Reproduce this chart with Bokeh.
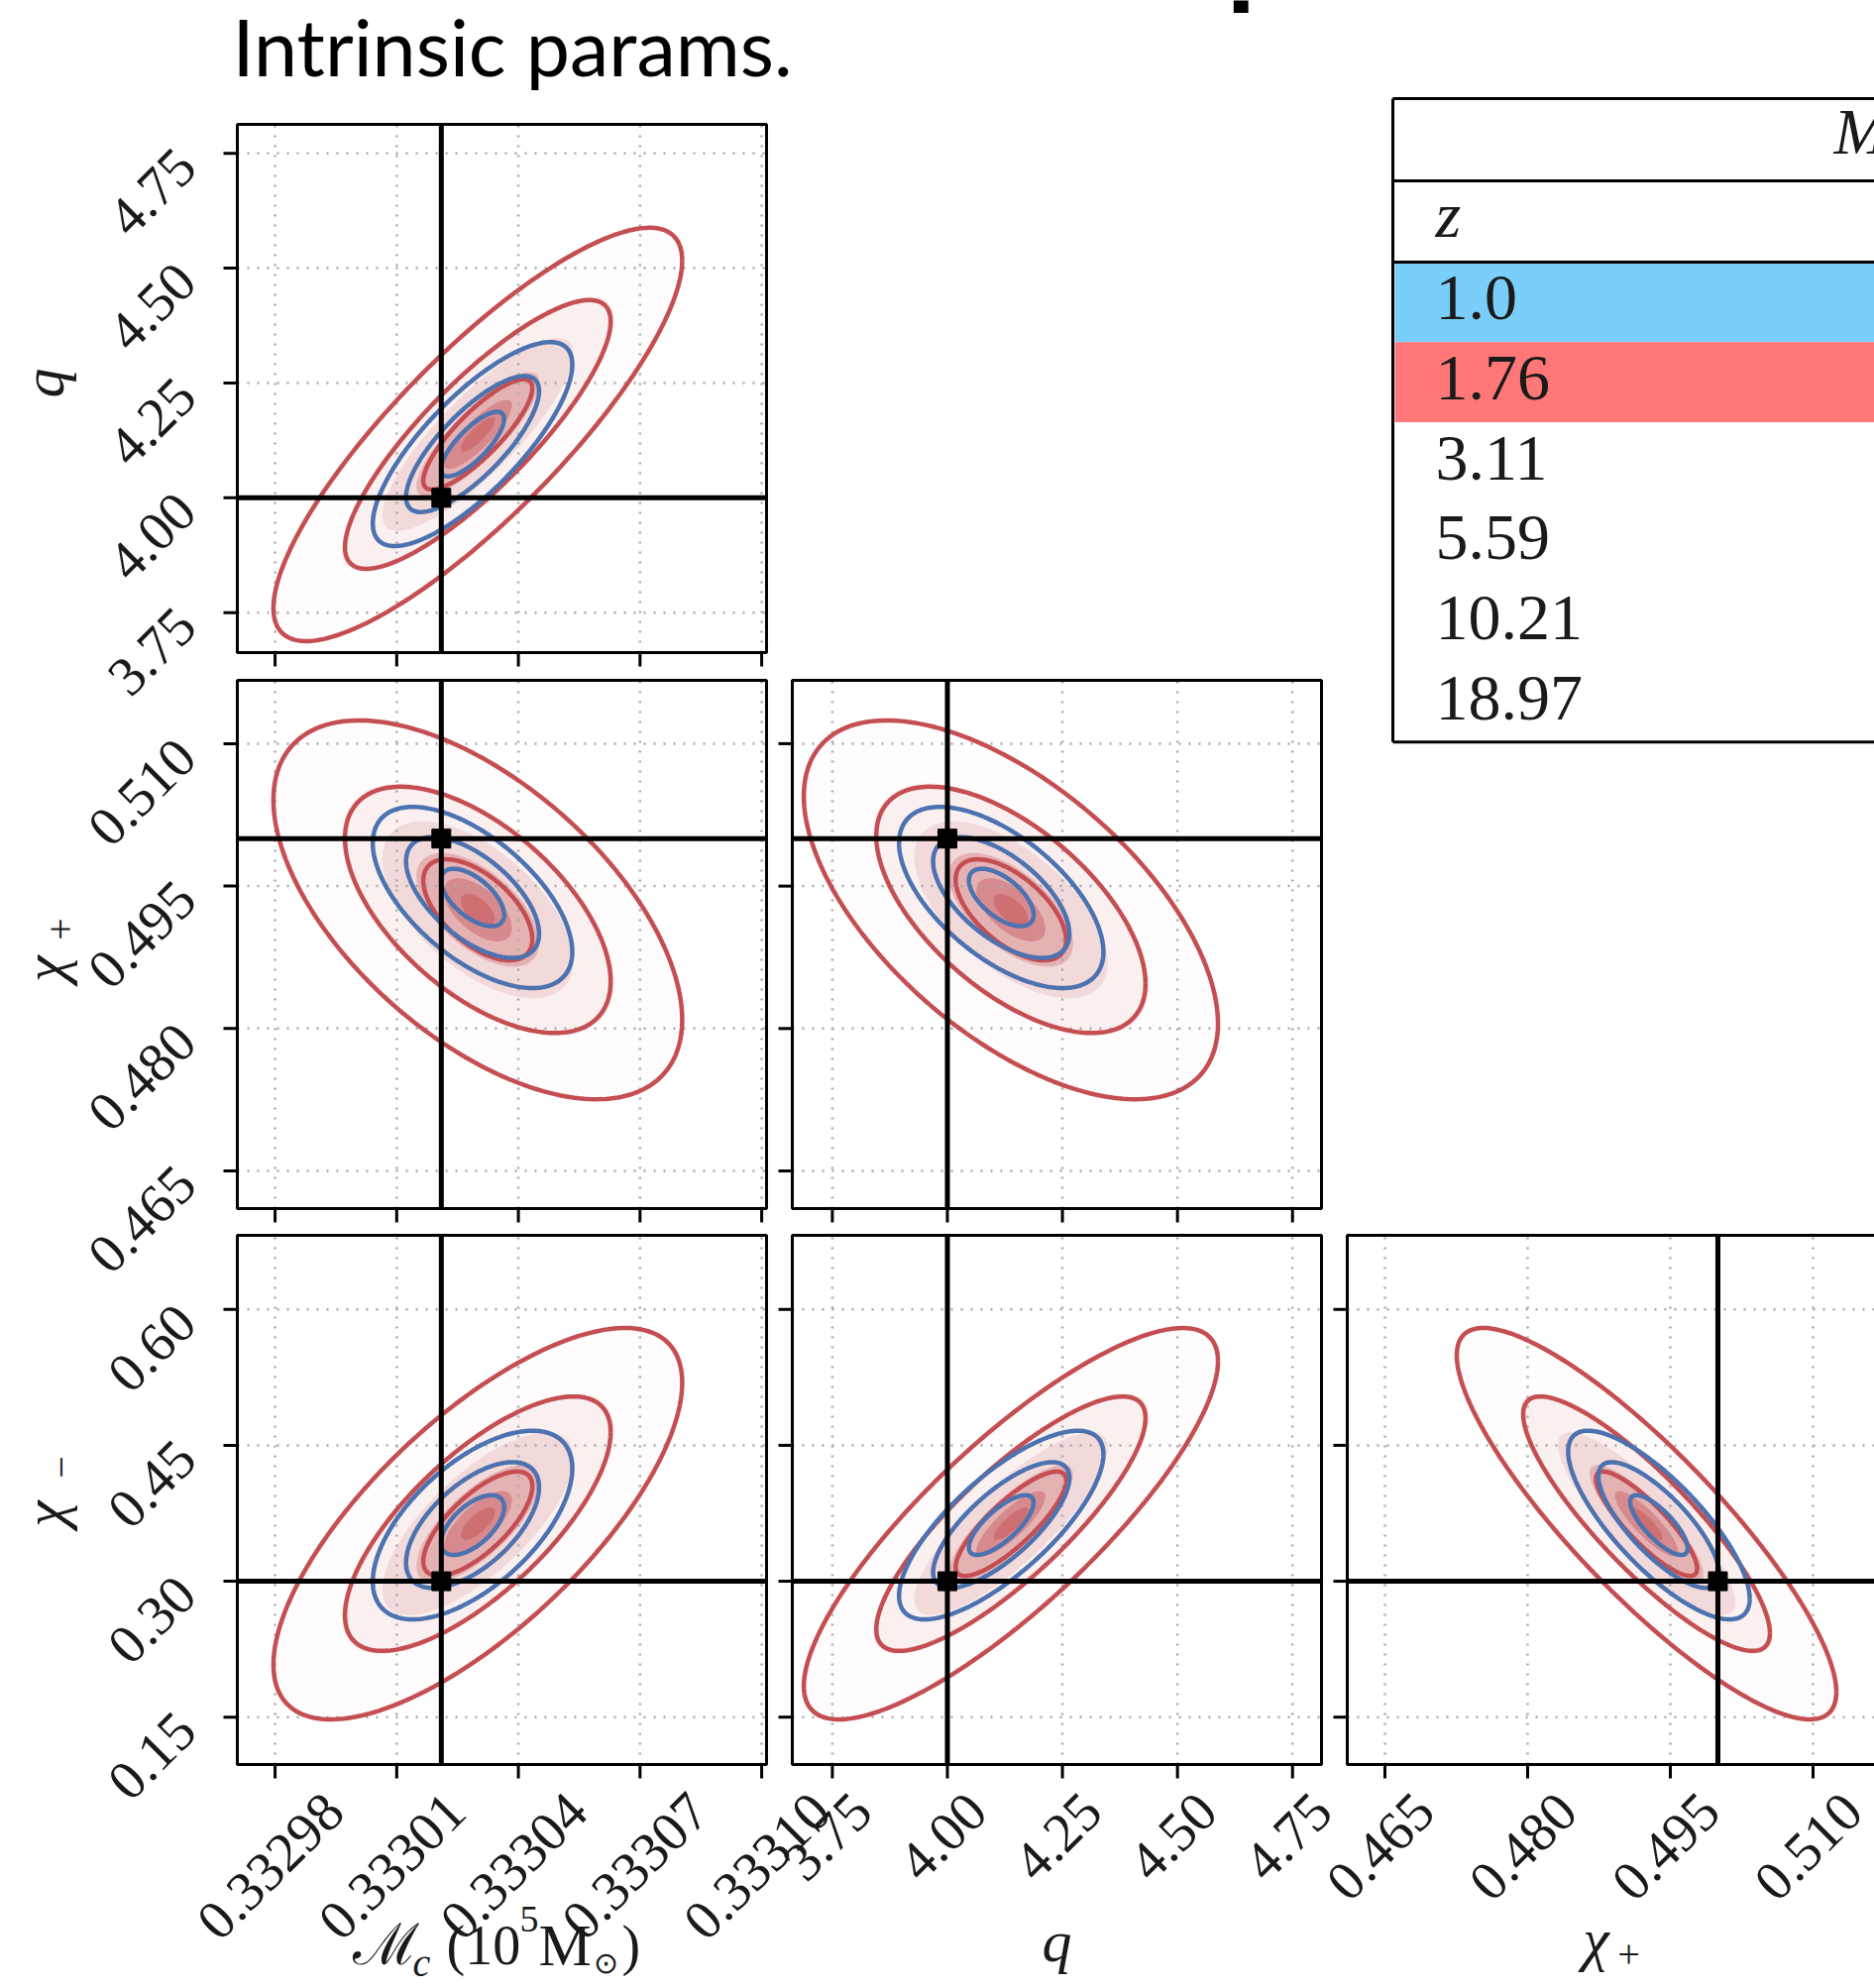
import numpy as np
from bokeh.plotting import figure
from bokeh.models import Range1d
from bokeh.core.properties import value
from bokeh.embed import file_html
from bokeh.resources import INLINE

W, H = 1891, 2006

# ---------------- posterior summaries ----------------
# parameter order: chirp mass (1e5 Msun), mass ratio q, chi_plus, chi_minus
TRUTH = [0.333021, 4.00, 0.500, 0.300]

# z = 1.76 posterior (red, with density shading)
RED_MEAN = [0.333030, 4.138, 0.4925, 0.3635]
RED_SIGMA = [1.68e-5, 0.150, 0.00665, 0.072]
# z = 1.0 posterior (blue)
BLUE_MEAN = [0.3330287, 4.117, 0.4938, 0.3620]
BLUE_SIGMA = [0.82e-5, 0.074, 0.00318, 0.0347]

# 2D panels as (x parameter, y parameter) and their correlations
PAIRS = [(0, 1), (0, 2), (1, 2), (0, 3), (1, 3), (2, 3)]
RED_CORR = [0.84, -0.58, -0.60, 0.72, 0.83, -0.86]
BLUE_CORR = [0.78, -0.60, -0.60, 0.60, 0.75, -0.78]

RED_LEVELS = [0.8, 1.95, 3.0]
BLUE_LEVELS = [0.95, 2.0, 3.0]
SHADE_LEVELS = [3.0, 2.0, 1.4, 0.9, 0.5, 0.25]
SHADE_ALPHA = [0.015, 0.07, 0.14, 0.28, 0.40, 0.45]

# axis limits and ticks
AXIS_LIMITS = [[0.3329707, 0.3331012], [3.663, 4.813], [0.46104, 0.51667], [0.0977, 0.6818]]
TICKS_MC = [0.33298, 0.33301, 0.33304, 0.33307, 0.33310]
TICKS_Q = [3.75, 4.00, 4.25, 4.50, 4.75]
TICKS_CHIP = [0.465, 0.480, 0.495, 0.510]
TICKS_CHIM = [0.15, 0.30, 0.45, 0.60]
LABELS_MC = ["0.33298", "0.33301", "0.33304", "0.33307", "0.33310"]
LABELS_Q = ["3.75", "4.00", "4.25", "4.50", "4.75"]
LABELS_CHIP = ["0.465", "0.480", "0.495", "0.510"]
LABELS_CHIM = ["0.15", "0.30", "0.45", "0.60"]
TICKS = [TICKS_MC, TICKS_Q, TICKS_CHIP, TICKS_CHIM]
LABELS = [LABELS_MC, LABELS_Q, LABELS_CHIP, LABELS_CHIM]

# redshift table
Z_VALUES = ["1.0", "1.76", "3.11", "5.59", "10.21", "18.97"]
Z_ROW_FILL = ["#79cff9", "#ff7777", None, None, None, None]

# ---------------- layout (page pixels) ----------------
COL_PX = [(239, 773), (799, 1333), (1359, 1893)]
ROW_PX = [(125, 658), (686, 1219), (1246, 1780)]
TICK_LEN = 14
TICK_FS = 56
RED = "#c44e52"
BLUE = "#4c72b0"
SERIF = value("Liberation Serif")
INK = "#1a1a1a"

p = figure(width=W, height=H, x_range=Range1d(0, W), y_range=Range1d(H, 0),
           x_axis_type=None, y_axis_type=None, toolbar_location=None,
           output_backend="svg", min_border=0, outline_line_color=None,
           background_fill_color="white", border_fill_color="white")


def col_range(c):
    lo, hi = AXIS_LIMITS[c]
    px0, px1 = COL_PX[c]
    s = (hi - lo) / (px1 - px0)
    return Range1d(lo - px0 * s, lo + (W - px0) * s)


def row_range(r):
    lo, hi = AXIS_LIMITS[r + 1]
    py0, py1 = ROW_PX[r]
    s = (hi - lo) / (py1 - py0)
    return Range1d(hi - (H - py0) * s, hi + py0 * s)


p.extra_x_ranges = {f"x{c}": col_range(c) for c in range(3)}
p.extra_y_ranges = {f"y{r + 1}": row_range(r) for r in range(3)}

theta = np.linspace(0, 2 * np.pi, 240)


def ellipse(mean, sigma, i, j, rho, k):
    x = mean[i] + k * sigma[i] * np.cos(theta)
    y = mean[j] + k * sigma[j] * (rho * np.cos(theta) + np.sqrt(1 - rho ** 2) * np.sin(theta))
    return x, y


def em(s):
    return sum(0.25 if ch == "." else 0.5 for ch in s)


for n, (i, j) in enumerate(PAIRS):
    c, r = i, j - 1
    xr, yr = f"x{c}", f"y{j}"
    xlo, xhi = AXIS_LIMITS[i]
    ylo, yhi = AXIS_LIMITS[j]
    rr = dict(x_range_name=xr, y_range_name=yr)

    # density shading of the red posterior
    for k, a in zip(SHADE_LEVELS, SHADE_ALPHA):
        ex, ey = ellipse(RED_MEAN, RED_SIGMA, i, j, RED_CORR[n], k)
        p.patch(ex, ey, fill_color=RED, fill_alpha=a, line_color=None, **rr)

    # dotted grid
    p.segment(x0=TICKS[i], y0=[ylo] * len(TICKS[i]), x1=TICKS[i], y1=[yhi] * len(TICKS[i]),
              line_color="#a8a8a8", line_width=2.5, line_dash="2 8", **rr)
    p.segment(x0=[xlo] * len(TICKS[j]), y0=TICKS[j], x1=[xhi] * len(TICKS[j]), y1=TICKS[j],
              line_color="#a8a8a8", line_width=2.5, line_dash="2 8", **rr)

    # credible contours
    for k in RED_LEVELS:
        ex, ey = ellipse(RED_MEAN, RED_SIGMA, i, j, RED_CORR[n], k)
        p.line(ex, ey, line_color=RED, line_width=4.5, **rr)
    for k in BLUE_LEVELS:
        ex, ey = ellipse(BLUE_MEAN, BLUE_SIGMA, i, j, BLUE_CORR[n], k)
        p.line(ex, ey, line_color=BLUE, line_width=4.5, **rr)

    # injected values
    p.segment(x0=[TRUTH[i]], y0=[ylo], x1=[TRUTH[i]], y1=[yhi], line_color="black", line_width=5, **rr)
    p.segment(x0=[xlo], y0=[TRUTH[j]], x1=[xhi], y1=[TRUTH[j]], line_color="black", line_width=5, **rr)
    p.scatter([TRUTH[i]], [TRUTH[j]], marker="square", size=19, color="black", **rr)

    # panel frame
    px0, px1 = COL_PX[c]
    py0, py1 = ROW_PX[r]
    p.quad(left=[px0], right=[px1], top=[py0], bottom=[py1], fill_color=None,
           line_color="black", line_width=3)

    # tick marks (bottom and left, outward)
    nt = len(TICKS[i])
    p.segment(x0=TICKS[i], y0=[py1] * nt, x1=TICKS[i], y1=[py1 + TICK_LEN] * nt,
              line_color="black", line_width=3, x_range_name=xr)
    nt = len(TICKS[j])
    p.segment(x0=[px0 - TICK_LEN] * nt, y0=TICKS[j], x1=[px0] * nt, y1=TICKS[j],
              line_color="black", line_width=3, y_range_name=yr)

    # tick labels on the outer panels
    if c == 0:
        p.text(x=[px0 - 52] * nt, y=TICKS[j], text=LABELS[j], angle=np.pi / 4,
               text_align="right", text_baseline="middle", y_offset=4,
               text_font=SERIF, text_font_size=f"{TICK_FS}px", text_color=INK,
               y_range_name=yr)
    if r == 2:
        yc = [py1 + 24 + 0.707 * (em(s) * TICK_FS + 0.7 * TICK_FS) / 2 for s in LABELS[i]]
        p.text(x=TICKS[i], y=yc, text=LABELS[i], angle=np.pi / 4, x_offset=-5,
               text_align="center", text_baseline="middle",
               text_font=SERIF, text_font_size=f"{TICK_FS}px", text_color=INK,
               x_range_name=xr)

# ---------------- axis titles ----------------
lab = dict(text_font=SERIF, text_color=INK, text_baseline="middle")
rot = dict(angle=np.pi / 2, text_align="center")
# y titles (rotated, reading upwards)
p.text(x=[43], y=[386], text=["q"], text_font_style="italic", text_font_size="60px", **rot, **lab)
p.text(x=[44], y=[977], text=["χ"], text_font_style="italic", text_font_size="60px", **rot, **lab)
p.text(x=[60], y=[937], text=["+"], text_font_size="40px", **rot, **lab)
p.text(x=[44], y=[1527], text=["χ"], text_font_style="italic", text_font_size="60px", **rot, **lab)
p.text(x=[61], y=[1480], text=["−"], text_font_size="40px", **rot, **lab)
# x titles
p.text(x=[355], y=[1962], text=["ℳ"], text_align="left", text_font_size="58px", **lab)
p.text(x=[416], y=[1980], text=["c"], text_align="left", text_font_style="italic",
       text_font_size="40px", **lab)
p.text(x=[450], y=[1962], text=["(10"], text_align="left", text_font_size="56px", **lab)
p.text(x=[524], y=[1936], text=["5"], text_align="left", text_font_size="38px", **lab)
p.text(x=[543], y=[1962], text=["M"], text_align="left", text_font_size="60px", **lab)
p.text(x=[598], y=[1980], text=["⊙"], text_align="left", text_font_size="30px", **lab)
p.text(x=[627], y=[1962], text=[")"], text_align="left", text_font_size="56px", **lab)
p.text(x=[1066], y=[1958], text=["q"], text_align="center", text_font_style="italic",
       text_font_size="60px", **lab)
p.text(x=[1610], y=[1956], text=["χ"], text_align="center", text_font_style="italic",
       text_font_size="60px", **lab)
p.text(x=[1643], y=[1971], text=["+"], text_align="center", text_font_size="40px", **lab)

# ---------------- slide title ----------------
p.text(x=[234], y=[46], text=["Intrinsic params."], text_align="left", text_baseline="middle",
       text_font=value("Lato"), text_font_size="79px", text_color="black")
p.text(x=[1237], y=[-54], text=["p"], text_align="left", text_baseline="middle",
       text_font=value("Lato"), text_font_style="bold", text_font_size="120px", text_color="black")

# ---------------- redshift table ----------------
TX0, TTOP, THEAD, TSUB, ROW_H = 1405, 99, 182, 264, 80.7
row_top = [TSUB + k * ROW_H for k in range(len(Z_VALUES))]
fills = [(t, f) for t, f in zip(row_top, Z_ROW_FILL) if f]
p.quad(left=[TX0 + 2] * len(fills), right=[W] * len(fills), top=[t for t, _ in fills],
       bottom=[t + ROW_H for t, _ in fills], fill_color=[f for _, f in fills], line_color=None)
tbottom = TSUB + ROW_H * len(Z_VALUES)
hl = [TTOP, THEAD, TSUB, tbottom]
p.segment(x0=[TX0] * 4, y0=hl, x1=[W] * 4, y1=hl, line_color="black", line_width=3)
p.segment(x0=[TX0], y0=[TTOP], x1=[TX0], y1=[tbottom], line_color="black", line_width=3)
p.text(x=[1448], y=[216], text=["z"], text_align="left",
       text_font_style="italic", text_font_size="66px", **lab)
p.text(x=[1850], y=[132], text=["M"], text_align="left",
       text_font_style="italic", text_font_size="66px", **lab)
p.text(x=[1448] * len(Z_VALUES), y=[t + ROW_H / 2 - 4 for t in row_top], text=Z_VALUES,
       text_align="left", text_font_size="66px", **lab)

open("out.html", "w").write(file_html(p, INLINE))
